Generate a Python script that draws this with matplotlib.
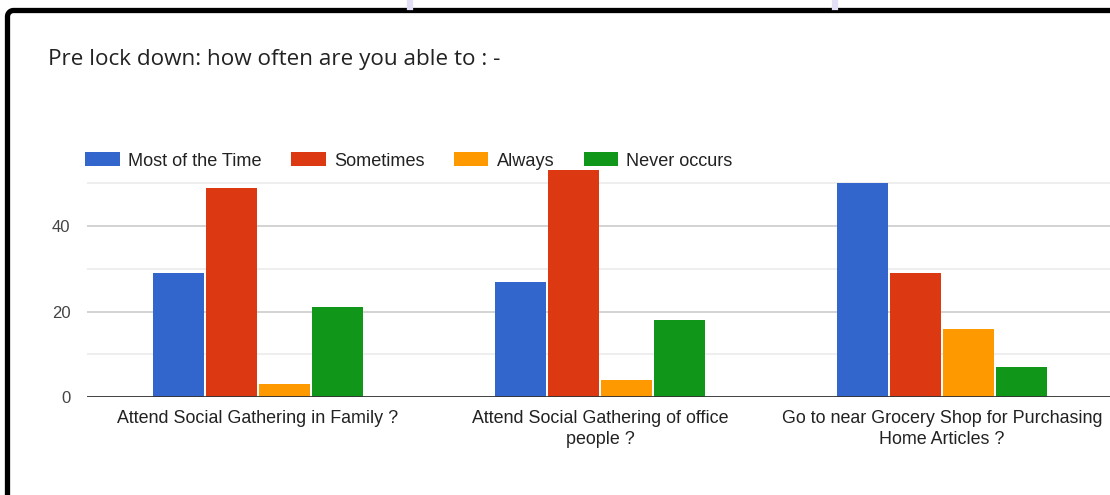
import matplotlib.pyplot as plt
from matplotlib.lines import Line2D
import numpy as np

categories = ['Attend Social Gathering in Family ?',
              'Attend Social Gathering of office\npeople ?',
              'Go to near Grocery Shop for Purchasing\nHome Articles ?']
series = ['Most of the Time', 'Sometimes', 'Always', 'Never occurs']
most_of_time = [29, 27, 50]
sometimes = [49, 53, 29]
always = [3, 4, 16]
never_occurs = [21, 18, 7]
colors = ['#3366CC', '#DC3912', '#FF9900', '#109618']
title = 'Pre lock down: how often are you able to : -'

plt.rcParams['font.family'] = ['Liberation Sans', 'DejaVu Sans']

W, H = 1110, 495
fig = plt.figure(figsize=(W / 100, H / 100), dpi=100)
fig.patch.set_facecolor('white')

# axes placed in pixel terms
left, right, bottom = 87, 1113, 397
ymax = 55
px_per_unit = 4.275
top = bottom - ymax * px_per_unit
ax = fig.add_axes([left / W, 1 - bottom / H, (right - left) / W, (bottom - top) / H])

values = [most_of_time, sometimes, always, never_occurs]
x = np.arange(len(categories))
bw = 0.155
for i, (vals, c) in enumerate(zip(values, colors)):
    ax.bar(x + (i - 1.5) * bw, vals, bw * 0.98, color=c, label=series[i], zorder=3)

ax.set_xlim(-0.5, 2.5)
ax.set_ylim(0, ymax)
ax.set_yticks([0, 20, 40])
ax.tick_params(axis='y', which='both', length=0, pad=12, labelsize=12, labelcolor='#444444')
ax.set_xticks(x)
ax.set_xticklabels(categories, fontsize=12.9, color='#222222', linespacing=1.3)
ax.tick_params(axis='x', length=0, pad=9.5)
for v in [20, 40]:
    ax.axhline(v, color='#cccccc', lw=1.2, zorder=1)
for v in [10, 30, 50]:
    ax.axhline(v, color='#ebebeb', lw=1.2, zorder=1)
ax.axhline(0, color='#333333', lw=1.3, zorder=4)
for s in ax.spines.values():
    s.set_visible(False)

# legend
fs = 13.1
leg = ax.legend(loc='center left', bbox_to_anchor=(left / W - 0.0015, 1 - 161 / H),
                bbox_transform=fig.transFigure, ncol=4, frameon=False,
                fontsize=fs, handlelength=1.9, handleheight=0.82,
                handletextpad=0.45, columnspacing=1.62, borderaxespad=0, borderpad=0)
for t in leg.get_texts():
    t.set_color('#222222')

fig.text(48 / W, 1 - 59 / H, title, fontsize=16.2, color='#222222',
         family=['Open Sans', 'DejaVu Sans'], va='center', ha='left')

# screenshot frame: left and top edges with a rounded corner
fx, fy, r = 7.5, 10.5, 6.0
ang = np.linspace(np.pi, np.pi / 2, 12)
px = np.concatenate([[fx], fx + r + r * np.cos(ang), [W + 10]])
py = np.concatenate([[H + 10], fy + r - r * np.sin(ang), [fy]])
fig.lines.append(Line2D(px / W, 1 - py / H, transform=fig.transFigure,
                        color='black', lw=3.8, solid_capstyle='butt'))
for xp in [410, 835]:
    fig.lines.append(Line2D([xp / W, xp / W], [1, 1 - 7 / H], transform=fig.transFigure,
                            color='#e2def6', lw=4.5))

fig.savefig('out.png', dpi=100)
